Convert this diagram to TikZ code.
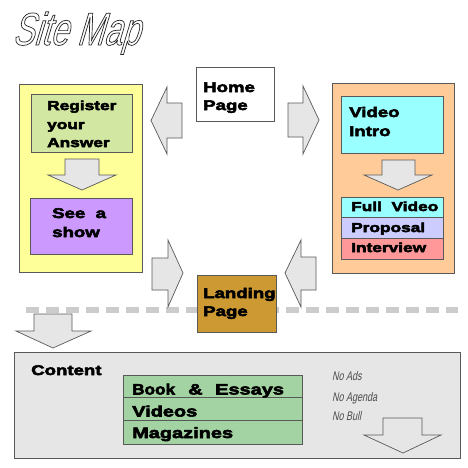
\documentclass[tikz,border=0pt]{standalone}
\usepackage{fontspec}
\usetikzlibrary{calc}
\setmainfont{Liberation Sans}
\newfontfamily\bx[FakeStretch=1.33]{Liberation Sans}
\newfontfamily\ttlfont[FakeSlant=0.3,FakeStretch=0.7]{Liberation Sans}
\newfontfamily\hand[FakeSlant=0.2,FakeStretch=0.72]{Liberation Sans}
\definecolor{cYellow}{HTML}{FFFF99}
\definecolor{cReg}{HTML}{D2E8A2}
\definecolor{cPurple}{HTML}{CC99FF}
\definecolor{cOrange}{HTML}{FFCC99}
\definecolor{cCyan}{HTML}{99FFFF}
\definecolor{cLav}{HTML}{CCCCFF}
\definecolor{cPink}{HTML}{FF9999}
\definecolor{cLand}{HTML}{CC9933}
\definecolor{cGrey}{HTML}{E6E6E6}
\definecolor{cGreen}{HTML}{A3D2A3}
\definecolor{cDash}{HTML}{CCCCCC}
\newcommand{\mybox}[6]{\node[box, fill=#6, minimum width={(#4-#2)*1pt}, minimum height={(#5-#3)*1pt}] (#1) at (#2,#3) {};}
\newcommand{\outlined}[1]{\special{pdf:literal direct 1 Tr 0.7 w}#1\special{pdf:literal direct 0 Tr}}
\newcommand{\heavy}[1]{\special{pdf:literal direct 2 Tr 0.55 w}#1\special{pdf:literal direct 0 Tr}}
\begin{document}
\begin{tikzpicture}[x=1pt,y=-1pt,
  box/.style={draw=black!65, line width=0.8pt, anchor=north west, inner sep=0pt, outer sep=0pt},
  lbl/.style={anchor=base west, inner sep=0pt, font=\bx\bfseries\fontsize{13}{15}\selectfont},
  lblb/.style={anchor=base west, inner sep=0pt, font=\bx\bfseries\fontsize{14}{16}\selectfont},
  lblc/.style={anchor=base west, inner sep=0pt, font=\bx\bfseries\fontsize{15}{17}\selectfont},
  note/.style={anchor=base west, inner sep=0pt, text=black!70, font=\hand\fontsize{12.5}{14}\selectfont},
  ttl/.style={anchor=base west, inner sep=0pt, font=\ttlfont\fontsize{46}{50}\selectfont},
  blockarrow/.style={draw=black!65, fill=cGrey, line width=0.7pt, line join=miter}]
\useasboundingbox (0,0) rectangle (468,467);
\fill[white] (0,0) rectangle (468,467);

% title with outline
\node[ttl, text=black!85] (title) at (12,45) {\outlined{Site Map}};

% dashed separator
\coordinate (dashL) at (26,310);
\coordinate (dashR) at (458,310);
\draw[cDash, line width=6pt, dash pattern=on 13pt off 7pt] (dashL) -- (dashR);

% home page
\mybox{home}{196}{67}{274}{121}{white}
\node[lblb] (homeA) at (203,92) {\heavy{Home}};
\node[lblb] (homeB) at (203,110) {\heavy{Page}};

% left yellow column
\mybox{left}{19}{84}{142}{272}{cYellow}
\mybox{reg}{31}{94}{132}{152}{cReg}
\node[lbl] (regA) at (47,110) {\heavy{Register}};
\node[lbl] (regB) at (47,129) {\heavy{your}};
\node[lbl] (regC) at (47,147) {\heavy{Answer}};
\mybox{show}{30}{198}{132}{254}{cPurple}
\node[lblb] (showA) at (52,218) {\heavy{See\ \ a}};
\node[lblb] (showB) at (52,237) {\heavy{show}};

% right orange column
\mybox{right}{332}{83}{454}{273}{cOrange}
\mybox{vid}{341}{96}{443}{153}{cCyan}
\node[lblb] (vidA) at (349,117) {\heavy{Video}};
\node[lblb] (vidB) at (349,136) {\heavy{Intro}};
\mybox{full}{341}{197}{443}{217}{cCyan}
\mybox{prop}{341}{217}{443}{238}{cLav}
\mybox{inter}{341}{238}{443}{259}{cPink}
\node[lbl] (fullT) at (351,211) {\heavy{Full\ \ Video}};
\node[lbl] (propT) at (351,232) {\heavy{Proposal}};
\node[lbl] (interT) at (351,252) {\heavy{Interview}};

% block arrows
\draw[blockarrow] (182,103) -- (167,103) -- (167,87) -- (151,120.5) -- (167,154) -- (167,138) -- (182,138) -- cycle;
\draw[blockarrow] (288,103) -- (303,103) -- (303,86) -- (319,120) -- (303,154) -- (303,137) -- (288,137) -- cycle;
\draw[blockarrow] (152,258) -- (168,258) -- (168,240) -- (183,273) -- (168,307) -- (168,290) -- (152,290) -- cycle;
\draw[blockarrow] (316,257) -- (301,257) -- (301,240) -- (285,273) -- (301,307) -- (301,290) -- (316,290) -- cycle;
\draw[blockarrow] (65,159) -- (99,159) -- (99,175) -- (116,175) -- (82,190) -- (48,175) -- (65,175) -- cycle;
\draw[blockarrow] (382,160) -- (415,160) -- (415,175) -- (432,175) -- (398,190) -- (364,175) -- (382,175) -- cycle;
\draw[blockarrow] (34,314) -- (72,314) -- (72,331) -- (91,331) -- (53,348) -- (16,331) -- (34,331) -- cycle;

% landing page
\mybox{land}{197}{275}{276}{332}{cLand}
\node[lblb] (landA) at (203,298) {\heavy{Landing}};
\node[lblb] (landB) at (203,316) {\heavy{Page}};

% content
\mybox{content}{14}{352}{460}{458}{cGrey}
\node[lblb] (contT) at (31,375) {\heavy{Content}};
\mybox{books}{123}{375}{302}{397}{cGreen}
\mybox{videos}{123}{397}{302}{420}{cGreen}
\mybox{mags}{123}{420}{302}{444}{cGreen}
\node[lblc] (booksT) at (132,394.5) {\heavy{\makebox[56pt][l]{\scalebox{0.86}[1]{Book}}\makebox[27pt][l]{\&}Essays}};
\node[lblc] (videosT) at (132,416.5) {\heavy{Videos}};
\node[lblc] (magsT) at (132,438) {\heavy{Magazines}};
\node[note] (n1) at (332,380) {No Ads};
\node[note] (n2) at (332,401) {No Agenda};
\node[note] (n3) at (332,420) {No Bull};
\draw[blockarrow] (383,418) -- (422,418) -- (422,435) -- (441,435) -- (403,453) -- (364,435) -- (383,435) -- cycle;
\end{tikzpicture}
\end{document}
